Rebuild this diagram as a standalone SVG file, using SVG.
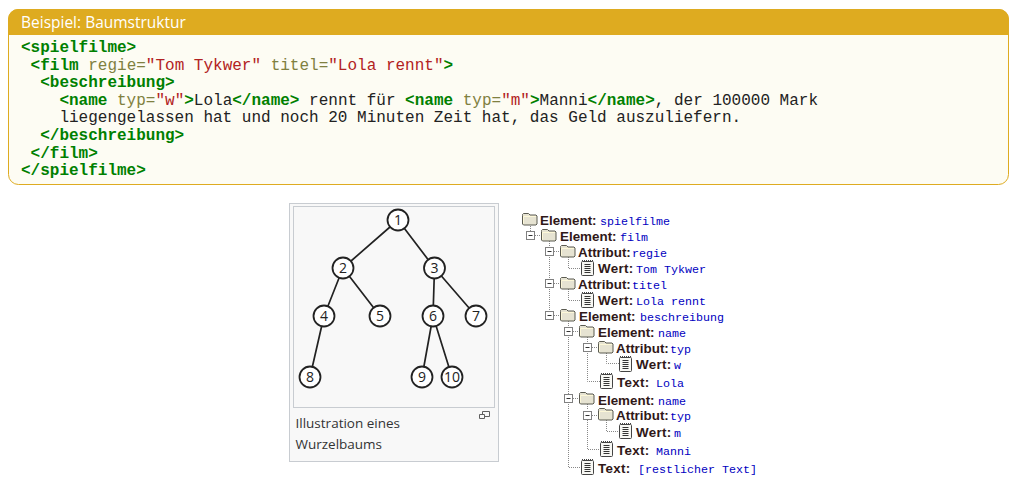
<svg xmlns="http://www.w3.org/2000/svg" width="1012" height="491" viewBox="0 0 1012 491">
<style>
.code{font-family:"Liberation Mono",monospace;font-size:16px;fill:#222}
.tag{fill:#008000;font-weight:bold}
.att{fill:#808040}
.val{fill:#b22222}
.edge{stroke:#222;stroke-width:1.7;fill:none}
.n circle{fill:#fff;stroke:#222;stroke-width:1.8}
.n text{font-family:"Open Sans",sans-serif;font-size:14px;fill:#222;text-anchor:middle}
.dot{stroke:#888;stroke-width:1;stroke-dasharray:1 1;fill:none}
.l{font-family:"Liberation Sans",sans-serif;font-weight:bold;font-size:13.4px;fill:#301818;transform:translateY(.7px)}
.w{letter-spacing:.3px}
.m{font-family:"Liberation Mono",monospace;font-size:11.67px;fill:#0000c0;transform:translateY(.7px)}
.cap{font-family:"Open Sans",sans-serif;font-size:13.5px;fill:#333}
</style>
<defs>
<g id="folder">
<path d="M.5 2.5V1.5L1.5 .5H6.5L8 2H14L15 3V11L14 12H1.5L.5 11Z" fill="#e6e3d2" stroke="#5a5a50" stroke-width="1"/>
<path d="M1.5 10.5V3.5H14" stroke="#fdf8d8" fill="none"/>
</g>
<g id="doc">
<rect x=".5" y="1.5" width="12" height="14" rx="1" fill="#f8f8f4" stroke="#444"/>
<path d="M1 .5H12" stroke="#444" stroke-dasharray="1 1" fill="none"/>
<path d="M3.5 4.5H9.5M3.5 6.5H9.5M3.5 8.5H9.5M3.5 10.5H9.5M3.5 12.5H9.5" stroke="#333" fill="none"/>
</g>
<g id="box">
<rect x=".5" y=".5" width="8" height="8" fill="#fff" stroke="#808080"/>
<path d="M2.5 4.5H6.5" stroke="#333" fill="none"/>
</g>
</defs>
<rect width="1012" height="491" fill="#fff"/>
<g id="panel">
<rect x="8.5" y="9.5" width="1000" height="175" rx="10" fill="#fdfcf3" stroke="#deab20"/>
<path d="M8 35V19A10 10 0 0 1 18 9H999A10 10 0 0 1 1009 19V35Z" fill="#deab20"/>
<text x="21" y="28" font-family="Open Sans,sans-serif" font-size="15.5px" fill="#fff">Beispiel: Baumstruktur</text>
<text class="code" xml:space="preserve" x="21" y="52"><tspan class="tag">&lt;spielfilme&gt;</tspan></text>
<text class="code" xml:space="preserve" x="30.6" y="69.5"><tspan class="tag">&lt;film</tspan> <tspan class="att">regie=</tspan><tspan class="val">"Tom Tykwer"</tspan> <tspan class="att">titel=</tspan><tspan class="val">"Lola rennt"</tspan><tspan class="tag">&gt;</tspan></text>
<text class="code" xml:space="preserve" x="40.2" y="87"><tspan class="tag">&lt;beschreibung&gt;</tspan></text>
<text class="code" xml:space="preserve" x="59.4" y="104.5"><tspan class="tag">&lt;name</tspan> <tspan class="att">typ=</tspan><tspan class="val">"w"</tspan><tspan class="tag">&gt;</tspan>Lola<tspan class="tag">&lt;/name&gt;</tspan> rennt für <tspan class="tag">&lt;name</tspan> <tspan class="att">typ=</tspan><tspan class="val">"m"</tspan><tspan class="tag">&gt;</tspan>Manni<tspan class="tag">&lt;/name&gt;</tspan>, der 100000 Mark</text>
<text class="code" xml:space="preserve" x="59.4" y="122">liegengelassen hat und noch 20 Minuten Zeit hat, das Geld auszuliefern.</text>
<text class="code" xml:space="preserve" x="40.2" y="140"><tspan class="tag">&lt;/beschreibung&gt;</tspan></text>
<text class="code" xml:space="preserve" x="30.6" y="157.5"><tspan class="tag">&lt;/film&gt;</tspan></text>
<text class="code" xml:space="preserve" x="21" y="175"><tspan class="tag">&lt;/spielfilme&gt;</tspan></text>
</g>
<g id="figure">
<rect x="289.5" y="203.5" width="209" height="258" fill="#f8f8f8" stroke="#c8ccd1"/>
<rect x="293.5" y="206.5" width="201" height="201" fill="#f8f8f8" stroke="#c8ccd1"/>
<text class="cap" x="295.5" y="428">Illustration eines</text>
<text class="cap" x="295.5" y="449">Wurzelbaums</text>
<path d="M479.5 414.5H484.5V418.5H479.5ZM482.5 414.5V411.5H489.5V416.5H484.5" fill="none" stroke="#606060"/>
</g>
<g id="connectors">
<path class="edge" d="M398 220L343 268M398 220L434.5 268M343 268L324 316M343 268L380 316M434.5 268L433 316M434.5 268L476 316M324 316L310 377M433 316L422 377M433 316L452 377"/>
<path class="dot" d="M530.5 226V231M535 235.5H541M549.5 241V247M549.5 257V279M549.5 289V311M554 251.5H560M554 283.5H560M554 315.5H560M568.5 257V268.5H581M568.5 289V300.5H581M568.5 321V327M568.5 337V394M568.5 404V467.5H581M573 331.5H579M573 398.5H579M587.5 337V343M587.5 353V381.5H600M587.5 404V410M587.5 420V449.5H600M592 347.5H598M592 415.5H598M606.5 353V363.5H619M606.5 420V431.5H619"/>
</g>
<g id="tree-nodes">
<g class="n" id="t1"><circle cx="398" cy="220" r="10.5"/><text x="398" y="225">1</text></g>
<g class="n" id="t2"><circle cx="343" cy="268" r="10.5"/><text x="343" y="273">2</text></g>
<g class="n" id="t3"><circle cx="434.5" cy="268" r="10.5"/><text x="434.5" y="273">3</text></g>
<g class="n" id="t4"><circle cx="324" cy="316" r="10.5"/><text x="324" y="321">4</text></g>
<g class="n" id="t5"><circle cx="380" cy="316" r="10.5"/><text x="380" y="321">5</text></g>
<g class="n" id="t6"><circle cx="433" cy="316" r="10.5"/><text x="433" y="321">6</text></g>
<g class="n" id="t7"><circle cx="476" cy="316" r="10.5"/><text x="476" y="321">7</text></g>
<g class="n" id="t8"><circle cx="310" cy="377" r="10.5"/><text x="310" y="382">8</text></g>
<g class="n" id="t9"><circle cx="422" cy="377" r="10.5"/><text x="422" y="382">9</text></g>
<g class="n" id="t10"><circle cx="452" cy="377" r="10.5"/><text x="452" y="382">10</text></g>
</g>
<g id="xml-tree">
<g id="r1"><use href="#folder" x="522" y="213"/><text class="l" x="540" y="224">Element:</text><text class="m" x="600" y="224">spielfilme</text></g>
<g id="r2"><use href="#box" x="526" y="231"/><use href="#folder" x="541" y="229"/><text class="l" x="560" y="240">Element:</text><text class="m" x="620" y="240">film</text></g>
<g id="r3"><use href="#box" x="545" y="247"/><use href="#folder" x="560" y="245"/><text class="l" x="578" y="256">Attribut:</text><text class="m" x="632" y="256">regie</text></g>
<g id="r4"><use href="#doc" x="581" y="260"/><text class="l w" x="598" y="272">Wert:</text><text class="m" x="636" y="272">Tom Tykwer</text></g>
<g id="r5"><use href="#box" x="545" y="279"/><use href="#folder" x="560" y="277"/><text class="l" x="578" y="288">Attribut:</text><text class="m" x="632" y="288">titel</text></g>
<g id="r6"><use href="#doc" x="581" y="292"/><text class="l w" x="598" y="304">Wert:</text><text class="m" x="636" y="304">Lola rennt</text></g>
<g id="r7"><use href="#box" x="545" y="311"/><use href="#folder" x="560" y="309"/><text class="l" x="579" y="320">Element:</text><text class="m" x="640" y="320">beschreibung</text></g>
<g id="r8"><use href="#box" x="564" y="327"/><use href="#folder" x="579" y="325"/><text class="l" x="598" y="336">Element:</text><text class="m" x="658" y="336">name</text></g>
<g id="r9"><use href="#box" x="583" y="343"/><use href="#folder" x="598" y="341"/><text class="l" x="616" y="352">Attribut:</text><text class="m" x="670" y="352">typ</text></g>
<g id="r10"><use href="#doc" x="619" y="356"/><text class="l w" x="636" y="368">Wert:</text><text class="m" x="674" y="368">w</text></g>
<g id="r11"><use href="#doc" x="600" y="373"/><text class="l w" x="617" y="386">Text:</text><text class="m" x="656" y="386">Lola</text></g>
<g id="r12"><use href="#box" x="564" y="394"/><use href="#folder" x="579" y="392"/><text class="l" x="598" y="404">Element:</text><text class="m" x="658" y="404">name</text></g>
<g id="r13"><use href="#box" x="583" y="411"/><use href="#folder" x="598" y="408"/><text class="l" x="616" y="419">Attribut:</text><text class="m" x="670" y="419">typ</text></g>
<g id="r14"><use href="#doc" x="619" y="423"/><text class="l w" x="636" y="436">Wert:</text><text class="m" x="674" y="436">m</text></g>
<g id="r15"><use href="#doc" x="600" y="441"/><text class="l w" x="617" y="454">Text:</text><text class="m" x="656" y="454">Manni</text></g>
<g id="r16"><use href="#doc" x="581" y="459"/><text class="l w" x="598" y="472">Text:</text><text class="m" x="638" y="472">[restlicher Text]</text></g>
</g>
</svg>
